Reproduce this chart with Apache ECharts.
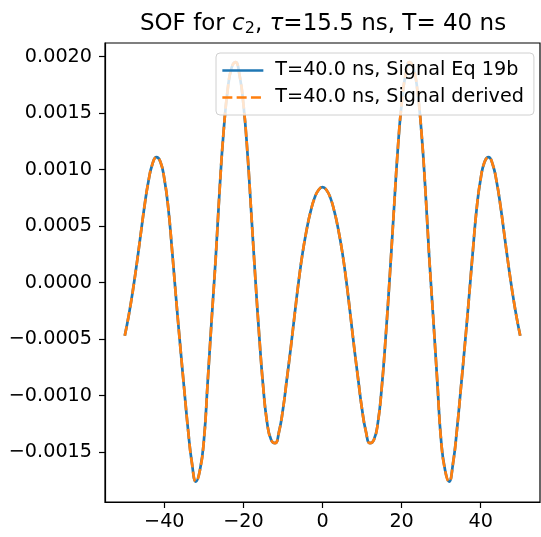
<!DOCTYPE html>
<html>
<head>
<meta charset="utf-8">
<script src="https://cdn.jsdelivr.net/npm/echarts@6/dist/echarts.min.js"></script>
<style>html,body{margin:0;padding:0;background:#fff}#c{width:541px;height:537px}</style>
</head>
<body>
<div id="c"></div>
<script>
const xValues = [-50,-49,-48,-47,-46,-45,-44,-43,-42,-41,-40,-39,-38,-37,-36,-35,-34,-33,-32,-31,-30,-29,-28,-27,-26,-25,-24,-23,-22,-21,-20,-19,-18,-17,-16,-15,-14,-13,-12,-11,-10,-9,-8,-7,-6,-5,-4,-3,-2,-1,0,1,2,3,4,5,6,7,8,9,10,11,12,13,14,15,16,17,18,19,20,21,22,23,24,25,26,27,28,29,30,31,32,33,34,35,36,37,38,39,40,41,42,43,44,45,46,47,48,49,50];
const signalEq19b = [-0.00047,-0.00029,-0.00008,0.00016,0.00042,0.00068,0.00090,0.00105,0.00111,0.00107,0.00092,0.00066,0.00027,-0.00015,-0.00055,-0.00093,-0.00130,-0.00160,-0.00176,-0.00166,-0.00140,-0.00086,-0.00031,0.00022,0.00083,0.00134,0.00170,0.00190,0.00195,0.00184,0.00158,0.00116,0.00061,0.00005,-0.00047,-0.00092,-0.00124,-0.00139,-0.00142,-0.00132,-0.00112,-0.00085,-0.00057,-0.00027,0.00002,0.00027,0.00047,0.00063,0.00075,0.00082,0.000845,0.00082,0.00075,0.00063,0.00047,0.00027,0.00002,-0.00027,-0.00057,-0.00085,-0.00112,-0.00132,-0.00142,-0.00139,-0.00124,-0.00092,-0.00047,0.00005,0.00061,0.00116,0.00158,0.00184,0.00195,0.00190,0.00170,0.00134,0.00083,0.00022,-0.00031,-0.00086,-0.00140,-0.00166,-0.00176,-0.00160,-0.00130,-0.00093,-0.00055,-0.00015,0.00027,0.00066,0.00092,0.00107,0.00111,0.00105,0.00090,0.00068,0.00042,0.00016,-0.00008,-0.00029,-0.00047];
const signalDerived = [-0.00047,-0.00029,-0.00008,0.00016,0.00042,0.00068,0.00090,0.00105,0.00111,0.00107,0.00092,0.00066,0.00027,-0.00015,-0.00055,-0.00093,-0.00130,-0.00160,-0.00176,-0.00166,-0.00140,-0.00086,-0.00031,0.00022,0.00083,0.00134,0.00170,0.00190,0.00195,0.00184,0.00158,0.00116,0.00061,0.00005,-0.00047,-0.00092,-0.00124,-0.00139,-0.00142,-0.00132,-0.00112,-0.00085,-0.00057,-0.00027,0.00002,0.00027,0.00047,0.00063,0.00075,0.00082,0.000845,0.00082,0.00075,0.00063,0.00047,0.00027,0.00002,-0.00027,-0.00057,-0.00085,-0.00112,-0.00132,-0.00142,-0.00139,-0.00124,-0.00092,-0.00047,0.00005,0.00061,0.00116,0.00158,0.00184,0.00195,0.00190,0.00170,0.00134,0.00083,0.00022,-0.00031,-0.00086,-0.00140,-0.00166,-0.00176,-0.00160,-0.00130,-0.00093,-0.00055,-0.00015,0.00027,0.00066,0.00092,0.00107,0.00111,0.00105,0.00090,0.00068,0.00042,0.00016,-0.00008,-0.00029,-0.00047];
const seriesNames = ['T=40.0 ns, Signal Eq 19b', 'T=40.0 ns, Signal derived'];
const xTicks = [-40, -20, 0, 20, 40];
const yTicks = [-0.0015, -0.0010, -0.0005, 0.0000, 0.0005, 0.0010, 0.0015, 0.0020];

const FONT = 'DejaVu Sans';
const fmtMinus = s => s.replace('-', '\u2212');

const chart = echarts.init(document.getElementById('c'), null, {renderer: 'canvas'});
chart.setOption({
  animation: false,
  backgroundColor: '#fff',
  title: {
    text: '{a|SOF for }{i|c}{s|2}{a|, }{i|\u03c4}{a|=15.5 ns, T= 40 ns}',
    left: 323, textAlign: 'center', top: 11, padding: 0,
    textStyle: {
      fontWeight: 'normal',
      rich: {
        a: {fontFamily: FONT, fontSize: 23, fontWeight: 'normal', color: '#000'},
        i: {fontFamily: FONT, fontSize: 23, fontWeight: 'normal', fontStyle: 'italic', color: '#000'},
        s: {fontFamily: FONT, fontSize: 16, fontWeight: 'normal', color: '#000', padding: [10, 0, 0, 0]}
      }
    }
  },
  grid: {left: 105, right: 1, top: 43, bottom: 35, show: true, borderColor: '#000', borderWidth: 1.2, backgroundColor: 'transparent'},
  legend: {
    left: 216, top: 53, orient: 'vertical',
    padding: [8, 10, 8, 5],
    itemWidth: 41, itemHeight: 16, itemGap: 8,
    backgroundColor: 'rgba(255,255,255,0.8)',
    borderColor: '#d0d0d0', borderWidth: 1, borderRadius: 4,
    itemStyle: {color: 'rgba(0,0,0,0)', borderWidth: 0, opacity: 0},
    lineStyle: {width: 2.7},
    textStyle: {fontFamily: FONT, fontSize: 19.2, color: '#000', padding: [0, 0, 0, 7]},
    data: seriesNames
  },
  xAxis: {
    type: 'value', min: -55, max: 55,
    axisLine: {show: true, onZero: false, lineStyle: {color: '#000', width: 1.2}},
    axisTick: {show: true, length: 6, lineStyle: {color: '#000', width: 1.2}, customValues: xTicks},
    splitLine: {show: false},
    axisLabel: {
      fontFamily: FONT, fontSize: 19.2, color: '#000', margin: 11,
      customValues: xTicks,
      formatter: v => fmtMinus(String(Math.round(v)))
    }
  },
  yAxis: {
    type: 'value', min: -0.00194, max: 0.00212,
    axisLine: {show: true, onZero: false, lineStyle: {color: '#000', width: 1.2}},
    axisTick: {show: true, length: 6, lineStyle: {color: '#000', width: 1.2}, customValues: yTicks},
    splitLine: {show: false},
    axisLabel: {
      fontFamily: FONT, fontSize: 19.2, color: '#000', margin: 13,
      customValues: yTicks,
      formatter: v => fmtMinus(Number(v).toFixed(4))
    }
  },
  series: [
    {
      name: seriesNames[0], type: 'line', showSymbol: false, symbol: 'none', smooth: 0.5,
      data: xValues.map((x, i) => [x, signalEq19b[i]]),
      lineStyle: {color: '#1f77b4', width: 2.7},
      itemStyle: {color: '#1f77b4'}
    },
    {
      name: seriesNames[1], type: 'line', showSymbol: false, symbol: 'none', smooth: 0.5,
      data: xValues.map((x, i) => [x, signalDerived[i]]),
      lineStyle: {color: '#ff7f0e', width: 2.7, type: [10, 4.3]},
      itemStyle: {color: '#ff7f0e'}
    }
  ]
});
</script>
</body>
</html>
